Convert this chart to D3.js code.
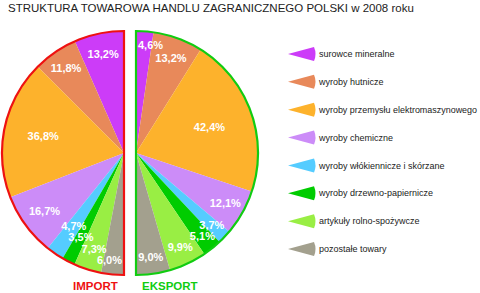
<!DOCTYPE html>
<html>
<head>
<meta charset="utf-8">
<script src="https://cdn.jsdelivr.net/npm/d3@7"></script>
<style>
  body { margin: 0; background: #fff; }
  svg { display: block; font-family: 'Liberation Sans', Arial, sans-serif; }
</style>
</head>
<body>
<div id="chart"></div>
<script>
// Categories (legend order, top to bottom)
const categories = [
  'surowce mineralne',
  'wyroby hutnicze',
  'wyroby przemysłu elektromaszynowego',
  'wyroby chemiczne',
  'wyroby włókiennicze i skórzane',
  'wyroby drzewno-papiernicze',
  'artykuły rolno-spożywcze',
  'pozostałe towary'
];

// Shares in percent
const importValues = [13.2, 11.8, 36.8, 16.7, 4.7, 3.5, 7.3, 6.0];
const eksportValues = [4.6, 13.2, 42.4, 12.1, 3.7, 5.1, 9.9, 9.0];

const colors = ['#cc3cf8', '#e8895a', '#fdb22c', '#cc8cf8', '#55ccff', '#00cc00', '#99ee44', '#a3a08e'];

const WIDTH = 480;
const HEIGHT = 293;
const R = 122;

const svg = d3.select('#chart')
  .append('svg')
  .attr('width', WIDTH)
  .attr('height', HEIGHT);

// Title
svg.append('text')
  .attr('x', 8)
  .attr('y', 12)
  .attr('font-size', 11.5)
  .attr('fill', '#222')
  .text('STRUKTURA TOWAROWA HANDLU ZAGRANICZNEGO POLSKI w 2008 roku');

const fmt = d => d3.format('.1f')(d).replace('.', ',') + '%';

// Draw one half pie; direction -1 = left half, +1 = right half
function halfPie(values, cx, cy, dir, borderColor, title, titleX) {
  const pie = d3.pie()
    .sort(null)
    .startAngle(0)
    .endAngle(dir * Math.PI);

  const arc = d3.arc().innerRadius(0).outerRadius(R);
  const g = svg.append('g').attr('transform', `translate(${cx}, ${cy})`);

  const arcs = pie(values);

  g.selectAll('path.slice')
    .data(arcs)
    .enter()
    .append('path')
    .attr('class', 'slice')
    .attr('d', arc)
    .attr('fill', (d, i) => colors[i]);

  // Outline around the whole half
  g.append('path')
    .attr('d', arc({ startAngle: 0, endAngle: dir * Math.PI }))
    .attr('fill', 'none')
    .attr('stroke', borderColor)
    .attr('stroke-width', 2.2);

  // Slice labels, small slices pushed toward the rim
  const labels = g.selectAll('text.lbl')
    .data(arcs)
    .enter()
    .append('text')
    .attr('class', 'lbl')
    .attr('text-anchor', 'middle')
    .attr('dy', '0.36em')
    .attr('font-size', 11)
    .attr('font-weight', 'bold')
    .attr('fill', '#fff')
    .text(d => fmt(d.data));

  // Place from the bottom slice upward, moving a label inward while it hits one already placed
  const placed = [];
  const nodes = labels.nodes().reverse();
  nodes.forEach(node => {
    const d = d3.select(node).datum();
    const a = (d.startAngle + d.endAngle) / 2;
    const w = node.getComputedTextLength();
    let r = 112 - 0.8 * d.data;
    let x, y;
    const pos = () => {
      x = r * Math.sin(a);
      // keep the label clear of the straight edge
      if (dir > 0) x = Math.max(x, w / 2 + 2);
      else x = Math.min(x, -w / 2 - 2);
      y = -r * Math.cos(a);
    };
    const hits = () => placed.some(p =>
      Math.abs(p.x - x) < (p.w + w) / 2 && Math.abs(p.y - y) < 11);
    pos();
    while (hits() && r > 40) {
      r -= 0.5;
      pos();
    }
    placed.push({ x, y, w });
    d3.select(node).attr('x', x).attr('y', y);
  });

  svg.append('text')
    .attr('x', titleX)
    .attr('y', 290)
    .attr('font-size', 11.5)
    .attr('font-weight', 'bold')
    .attr('fill', borderColor)
    .text(title);
}

halfPie(importValues, 124, 153, -1, '#ee1111', 'IMPORT', 73);
halfPie(eksportValues, 136, 153, 1, '#11cc11', 'EKSPORT', 142);

// Legend
const legendY = d3.scalePoint()
  .domain(categories)
  .range([54, 249]);

const legend = svg.append('g')
  .selectAll('g')
  .data(categories)
  .enter()
  .append('g')
  .attr('transform', d => `translate(0, ${legendY(d)})`);

legend.append('path')
  .attr('d', 'M288,0 L314,-7 Q317,0 314,7 Z')
  .attr('fill', (d, i) => colors[i]);

legend.append('text')
  .attr('x', 319)
  .attr('dy', '0.35em')
  .attr('font-size', 9)
  .attr('fill', '#222')
  .text(d => d)
  .each(function() {
    if (this.getComputedTextLength() > 158) {
      d3.select(this).attr('textLength', 158).attr('lengthAdjust', 'spacingAndGlyphs');
    }
  });
</script>
</body>
</html>
